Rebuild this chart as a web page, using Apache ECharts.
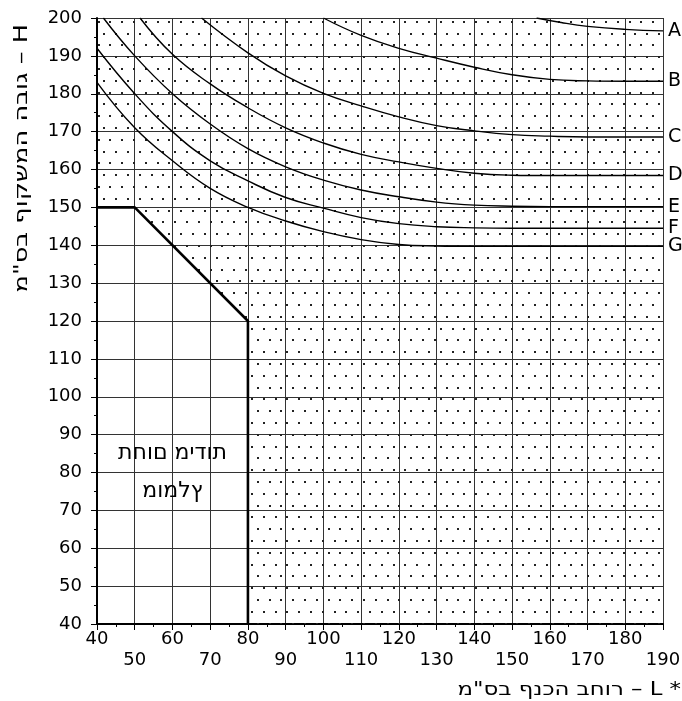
<!DOCTYPE html>
<html><head><meta charset="utf-8">
<script src="https://cdn.jsdelivr.net/npm/echarts@6/dist/echarts.min.js"></script>
<style>html,body{margin:0;padding:0;background:#fff}#chart{width:682px;height:701px}</style>
</head><body><div id="chart"></div>
<script>
// ---- data ----
const xMin = 40, xMax = 190, yMin = 40, yMax = 200, step = 10;
const curveNames = ['A','B','C','D','E','F','G'];
const curveA = [[156.5,200],[163,198.8],[170,197.8],[180,197],[190,196.6]];
const curveB = [[100,200],[110,195.4],[120,192],[130,189.4],[140,187],[150,185],[160,183.8],[170,183.4],[180,183.3],[190,183.3]];
const curveC = [[67.7,200],[80,190.8],[90,184.7],[100,180.1],[110,176.8],[120,173.9],[130,171.6],[140,170.2],[150,169.2],[160,168.8],[170,168.6],[190,168.6]];
const curveD = [[51.4,200],[60,190.4],[70,182.6],[80,176.3],[90,171],[100,167],[110,164],[120,162],[130,160.3],[140,159],[150,158.5],[160,158.4],[190,158.4]];
const curveE = [[41.7,200],[50,190],[60,180],[70,172],[80,165.5],[90,160.7],[100,157.2],[110,154.6],[120,152.8],[130,151.4],[140,150.6],[150,150.3],[160,150.2],[190,150.2]];
const curveF = [[40,192],[50,180],[60,170],[70,162.3],[80,157],[90,152.6],[100,149.8],[110,147.3],[120,145.7],[130,144.9],[140,144.6],[150,144.5],[190,144.5]];
const curveG = [[40,183],[50,171],[60,162.3],[70,155],[80,150],[90,146.4],[100,143.6],[110,141.5],[120,140.2],[130,139.8],[140,139.7],[190,139.7]];
const curves = [curveA, curveB, curveC, curveD, curveE, curveF, curveG];
const recommendedEdge = [[40,150],[50,150],[80,120],[80,40]];
const hatchRegion = [[40,150],[40,200],[190,200],[190,40],[80,40],[80,120],[50,150]];
const regionTextAt = [[60,85],[60,75]];
// stored in the glyph order the reference shows
const regionText = ['תודימ םוחת','ץלמומ'];
const xName = 'רוחב הכנף בס"מ – L *';
const yName = 'גובה המשקוף בס"מ – H';

// ---- dot pattern ----
function dotPattern(){
  const c = document.createElement('canvas'); c.width = 59; c.height = 118;
  const g = c.getContext('2d'); g.fillStyle = '#222';
  for (let k = 0; k < 10; k++){
    const y = 10 + 11.8*k, x0 = (k % 2) ? 4.1 : 10;
    for (let j = 0; j < 5; j++){
      const x = x0 + 11.8*j;
      g.fillRect(Math.round(x-1), Math.round(y-1), 2, 2);
    }
  }
  return c;
}
const pat = dotPattern();
const FONT = 'DejaVu Sans';

const chart = echarts.init(document.getElementById('chart'), null, {renderer:'canvas'});
const series = [{
  type:'custom', silent:true, z:1, data:[[xMin,yMin]],
  renderItem:(params, api) => ({
    type:'polygon',
    shape:{points: hatchRegion.map(p => api.coord(p))},
    style:{fill:{image:pat, repeat:'repeat'}, stroke:null}
  })
}];
curves.forEach((d,i) => series.push({
  type:'line', name:curveNames[i], data:d, smooth:0.45,
  symbol:'none', silent:true, z:3,
  lineStyle:{color:'#000', width:1.4},
  endLabel:{show:true, formatter:'{a}', distance:5, color:'#000', fontSize:19, fontFamily:FONT}
}));
series.push({
  type:'line', data:recommendedEdge, symbol:'none', silent:true, z:4,
  lineStyle:{color:'#000', width:2.6}
});

const axisCommon = {
  type:'value', interval:step,
  axisLine:{show:true, onZero:false, lineStyle:{color:'#000', width:2}},
  axisTick:{show:true, inside:false, length:6, lineStyle:{color:'#000', width:1}},
  minorTick:{show:true, splitNumber:2, length:3, lineStyle:{color:'#000', width:1}},
  splitLine:{show:true, lineStyle:{color:'#333', width:1}},
  minorSplitLine:{show:false}
};
chart.setOption({
  animation:false,
  backgroundColor:'#fff',
  grid:{left:97, right:19, top:18, bottom:77, containLabel:false, outerBoundsMode:'none'},
  xAxis:Object.assign({}, axisCommon, {min:xMin, max:xMax,
    axisLabel:{color:'#000', fontSize:18, fontFamily:FONT, margin:5, lineHeight:21,
      formatter:v => ((v/step) % 2 === 1 ? '\n' + v : '' + v)}}),
  yAxis:Object.assign({}, axisCommon, {min:yMin, max:yMax,
    axisLabel:{color:'#000', fontSize:18, fontFamily:FONT, margin:15}}),
  series:series
});

const graphics = regionText.map((t,i) => {
  const p = chart.convertToPixel({gridIndex:0}, regionTextAt[i]);
  return {type:'text', x:p[0], y:p[1], silent:true,
    style:{text:t, fill:'#000', font:'22px "DejaVu Sans"', textAlign:'center', textVerticalAlign:'middle'}};
});
graphics.push({type:'text', x:681, y:690, scaleX:1.2, silent:true,
  style:{text:xName, fill:'#000', font:'19px "DejaVu Sans"', textAlign:'right', textVerticalAlign:'middle'}});
graphics.push({type:'text', x:22, y:24, rotation:Math.PI/2, scaleX:1.35, silent:true,
  style:{text:yName, fill:'#000', font:'19px "DejaVu Sans"', textAlign:'right', textVerticalAlign:'middle'}});
chart.setOption({graphic:graphics});
</script></body></html>
